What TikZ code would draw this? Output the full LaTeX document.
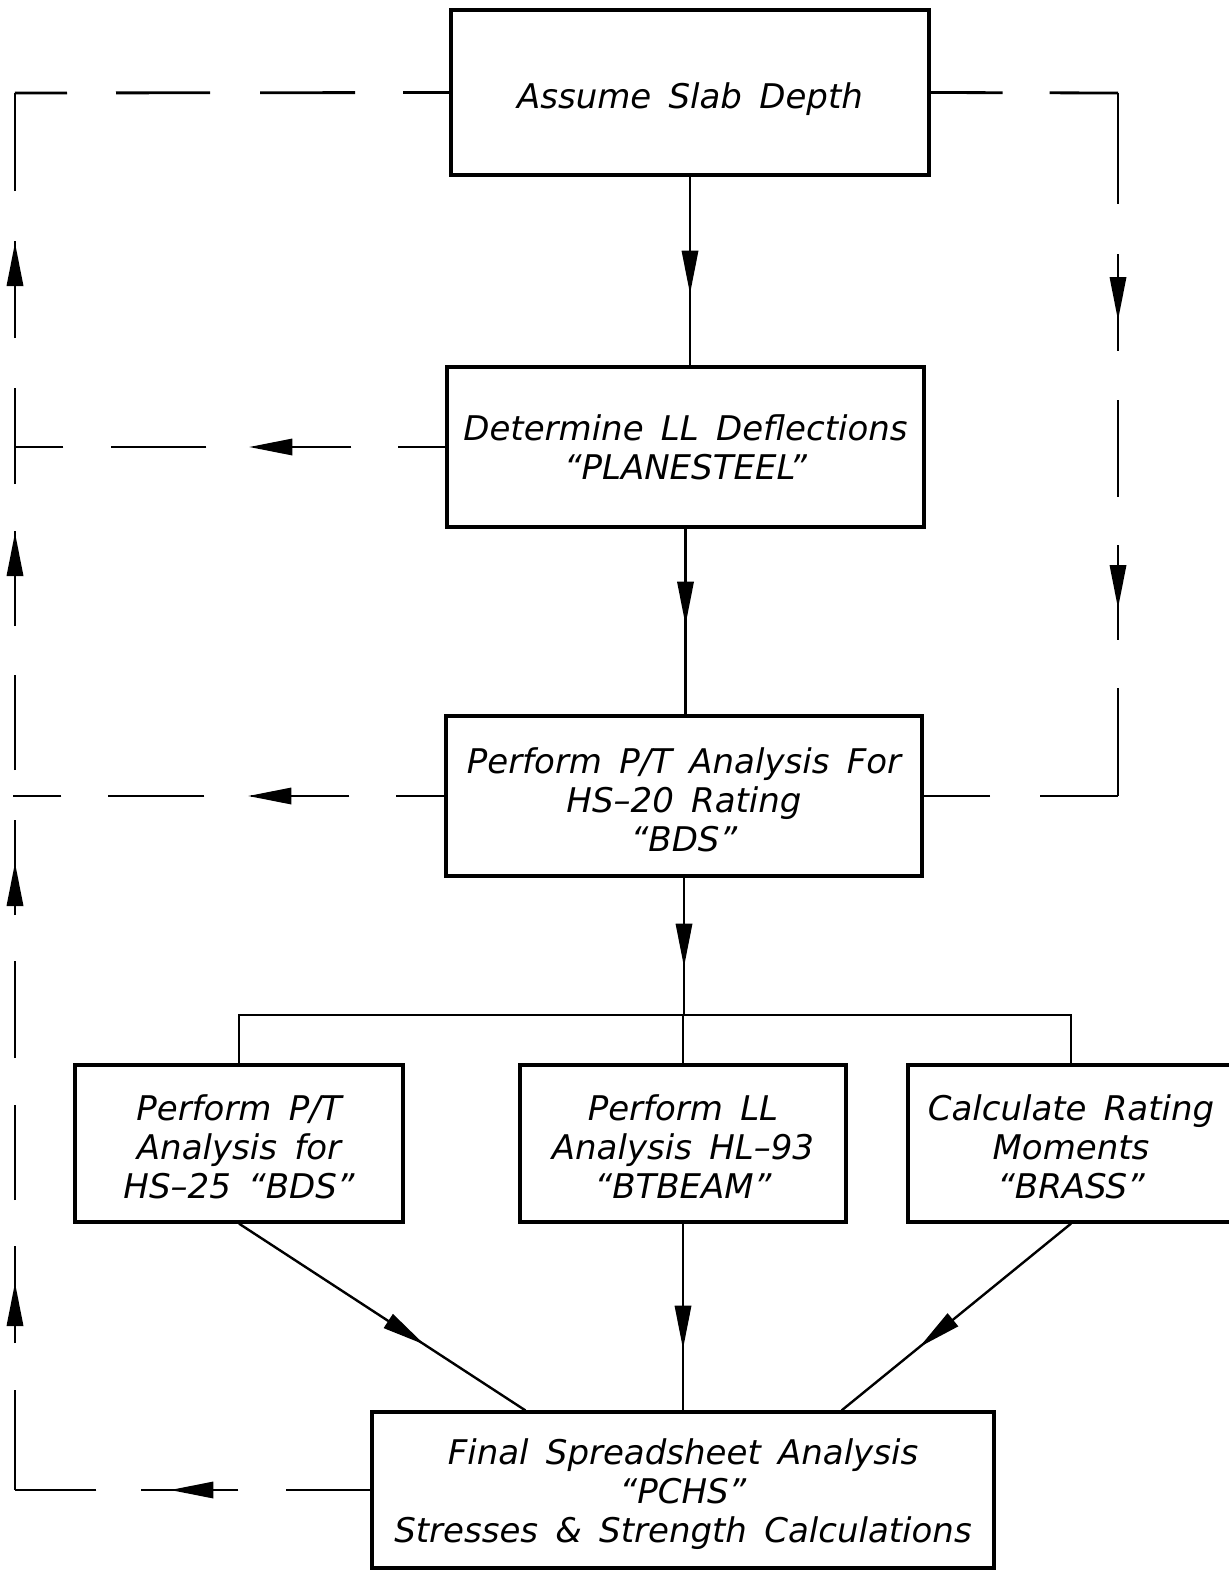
\documentclass[tikz,border=0pt]{standalone}
\usepackage{fontspec}
\newfontfamily\lbl{DejaVu Sans Oblique}[WordSpace=1.6]
\usetikzlibrary{decorations.markings,calc}
\newcommand{\dropby}[2]{\raisebox{-#1}[\height][\depth]{#2}}
\tikzset{
  box/.style={draw, line width=3.2pt, rectangle, inner sep=0pt, align=center,
    font=\lbl\fontsize{34}{39}\selectfont},
  flow/.style={line width=2.4pt},
  fb/.style={line width=2.8pt},
  tipat/.style={postaction={decorate, decoration={markings,
    mark=at position #1 with {\fill (0pt,0pt) -- (-43pt,8.5pt) -- (-43pt,-8.5pt) -- cycle;}}}},
}
\begin{document}
\begin{tikzpicture}[x=1pt,y=-1pt]
\useasboundingbox (0,0) rectangle (1229,1572);
% boxes
\node[box, minimum width=478pt, minimum height=165pt] (B1) at (690,92.5) {\dropby{7pt}{Assume Slab Depth}};
\node[box, minimum width=477pt, minimum height=160pt] (B2) at (685.5,447) {Determine LL Deflections\\“PLANESTEEL”};
\node[box, minimum width=476pt, minimum height=160pt] (B3) at (684,796) {\dropby{9pt}{\begin{tabular}{@{}c@{}}Perform P/T Analysis For\\HS–20 Rating\\“BDS”\end{tabular}}};
\node[box, minimum width=328pt, minimum height=157pt] (B4) at (239,1143.5) {\dropby{8pt}{\begin{tabular}{@{}c@{}}Perform P/T\\Analysis for\\HS–25 “BDS”\end{tabular}}};
\node[box, minimum width=326pt, minimum height=157pt] (B5) at (683,1143.5) {\dropby{8pt}{\begin{tabular}{@{}c@{}}Perform LL\\Analysis HL–93\\“BTBEAM”\end{tabular}}};
\node[box, minimum width=326pt, minimum height=157pt] (B6) at (1071,1143.5) {\dropby{8pt}{\begin{tabular}{@{}c@{}}Calculate Rating\\Moments\\“BRASS”\end{tabular}}};
\node[box, minimum width=622pt, minimum height=156pt] (B7) at (683,1490) {\dropby{6pt}{\begin{tabular}{@{}c@{}}Final Spreadsheet Analysis\\“PCHS”\\Stresses \& Strength Calculations\end{tabular}}};
% helper coordinates
\coordinate (j) at (684,1015);
\coordinate (c1) at (15,1490);
\coordinate (c2) at (15,93);
\coordinate (c3) at (1118,93);
\coordinate (c4) at (1118,796);
\coordinate (c5) at (15,447);
\coordinate (c6) at (13,796);
\coordinate (d1) at ($(B7.north west)+(155,0)$);
\coordinate (d2) at ($(B7.north east)+(-154,0)$);
% main flow
\draw[flow, tipat=117pt] (B1.south) -- (B1.south |- B2.north);
\draw[flow, tipat=96pt] (B2.south) -- (B2.south |- B3.north);
\draw[flow, tipat=89pt] (B3.south) -- (B3.south |- j);
\draw[flow] (B4.north) -- (B4.north |- j) -- (B6.north |- j) -- (B6.north);
\draw[flow] (B5.north |- j) -- (B5.north);
\draw[flow, tipat=125pt] (B5.south) -- (B5.south |- B7.north);
\draw[flow, tipat=0.647] (B4.south) -- (d1);
\draw[flow, tipat=0.66] (B6.south) -- (d2);
% dashed feedback lines
\draw[fb, dash pattern=on 84pt off 48pt on 97pt off 45pt on 300pt, tipat=200pt] (B7.west) -- (c1);
\draw[fb, dash pattern=on 100pt off 47pt on 97pt off 46pt on 95pt off 47pt on 97pt off 46pt on 95pt off 50pt on 95pt off 49pt on 95pt off 47pt on 96pt off 50pt on 97pt off 50pt on 300pt,
  tipat=207pt, tipat=627pt, tipat=957pt, tipat=1247pt] (c1) -- (c2);
\draw[fb, dash pattern=on 52pt off 49pt on 94pt off 50pt on 95pt off 48pt on 300pt] (c2) -- (B1.west);
\draw[fb, dash pattern=on 47pt off 47pt on 98pt off 47pt on 95pt off 48pt on 300pt, tipat=196pt] (B2.west) -- (c5);
\draw[fb, dash pattern=on 48pt off 47pt on 98pt off 47pt on 96pt off 47pt on 300pt, tipat=196pt] (B3.west) -- (c6);
\draw[fb, dash pattern=on 72pt off 47pt on 300pt] (B1.east) -- (c3);
\draw[fb, dash pattern=on 111pt off 50pt on 97pt off 49pt on 97pt off 48pt on 95pt off 48pt on 300pt, tipat=227pt, tipat=515pt] (c3) -- (c4);
\draw[fb, dash pattern=on 78pt off 50pt on 300pt] (c4) -- (B3.east);
\end{tikzpicture}
\end{document}
